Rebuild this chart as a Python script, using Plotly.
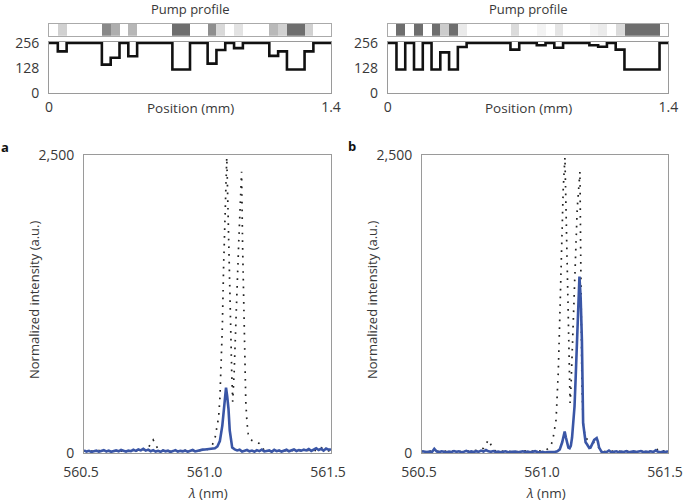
import numpy as np
import plotly.graph_objects as go

# ---------------- data ----------------
# pump profiles (32 pixels across 1.4 mm), grey level 0-256
pump_a = [256, 213, 256, 256, 256, 256, 145, 180, 256, 188, 256, 256, 256, 256, 120, 120,
          256, 256, 150, 220, 256, 230, 256, 256, 256, 190, 213, 120, 120, 213, 256, 256]
pump_b = [256, 120, 256, 120, 256, 120, 208, 120, 236, 256, 256, 256, 256, 256, 222, 256,
          256, 245, 256, 232, 256, 256, 256, 245, 237, 256, 222, 120, 120, 120, 120, 256]
pos_max = 1.4

# spectra: wavelength grid (nm) for baselines
lam_grid = np.round(np.arange(560.50, 561.5001, 0.01), 2)

blue_a_base = [22, 12, 18, 9, 15, 20, 11, 17, 24, 13,
               19, 10, 16, 22, 14, 25, 18, 12, 20, 15,
               27, 18, 30, 22, 35, 20, 28, 15, 24, 12,
               18, 10, 22, 14, 19, 9, 16, 24, 12, 18,
               14, 20, 11, 17, 25, 13, 19, 22, 28, 30,
               32, 35, 38, 40, 45, 60, 120, 200, 150, 60,
               30, 20, 15, 22, 12, 18, 25, 14, 20, 11,
               24, 16, 28, 13, 19, 22, 10, 26, 15, 21,
               12, 18, 27, 14, 23, 30, 17, 25, 20, 28,
               22, 33, 18, 30, 40, 25, 35, 20, 38, 28, 30]
blue_a_peak_lam = [561.02, 561.03, 561.04, 561.05, 561.06, 561.065, 561.07, 561.075,
                   561.08, 561.085, 561.09, 561.095, 561.10, 561.11, 561.12, 561.13]
blue_a_peak_val = [35, 40, 55, 100, 230, 330, 450, 548, 470, 370, 190, 90, 45, 30, 22, 28]

blue_b_base = [15, 10, 8, 12, 6, 35, 12, 8, 14, 10,
               6, 12, 9, 16, 10, 14, 7, 11, 18, 9,
               13, 8, 15, 10, 20, 12, 25, 14, 10, 16,
               8, 12, 6, 10, 14, 7, 11, 9, 13, 6,
               10, 14, 8, 12, 6, 10, 15, 8, 5, 10,
               4, 8, 6, 5, 8, 15, 30, 90, 180, 70,
               40, 130, 390, 950, 1480, 1000, 140, 75, 42, 70,
               110, 125, 45, 10, 5, 8, 20, 6, 10, 14,
               7, 12, 9, 15, 6, 10, 13, 8, 11, 16,
               7, 12, 9, 14, 8, 22, 10, 6, 12, 9, 14]
blue_b_peak_lam = [561.04, 561.05, 561.06, 561.07, 561.08, 561.085, 561.09, 561.095, 561.10,
                   561.105, 561.11, 561.115, 561.12, 561.125, 561.13, 561.135, 561.14,
                   561.145, 561.15, 561.155, 561.16, 561.165, 561.17, 561.175, 561.18,
                   561.185, 561.19, 561.20, 561.21, 561.215, 561.22, 561.23, 561.24]
blue_b_peak_val = [8, 15, 30, 90, 180, 130, 70, 45, 40,
                   60, 130, 250, 390, 650, 950, 1230, 1480,
                   1300, 950, 250, 140, 90, 75, 55, 42,
                   45, 70, 110, 125, 95, 45, 10, 5]

dot_a_base = [15, 20, 12, 18, 10, 16, 22, 14, 18, 12,
              20, 15, 18, 12, 22, 16, 20, 14, 18, 12,
              20, 16, 24, 18, 30, 28, 40, 80, 110, 70,
              30, 18, 22, 14, 20, 12, 18, 22, 15, 20,
              16, 22, 14, 18, 24, 16, 20, 22, 25, 28,
              30, 45, 70, 120, 220, 450, 1050, 1950, 2480, 1800,
              430, 1100, 2050, 1000, 250, 130, 100, 95, 90, 80,
              80, 45, 25, 20, 15, 18, 12, 22, 16, 20,
              14, 18, 22, 15, 20, 24, 18, 22, 16, 20,
              24, 18, 22, 26, 20, 40, 45, 30, 22, 18, 20]
dot_a_peak_lam = [561.00, 561.01, 561.02, 561.03, 561.04, 561.045, 561.05, 561.055, 561.06,
                  561.065, 561.07, 561.074, 561.078, 561.081, 561.085, 561.088, 561.093,
                  561.098, 561.102, 561.105, 561.108, 561.115, 561.121, 561.127, 561.132,
                  561.138, 561.142, 561.148, 561.152, 561.155, 561.16, 561.165, 561.17,
                  561.18, 561.19, 561.20, 561.21, 561.22, 561.23]
dot_a_peak_val = [30, 45, 70, 120, 220, 300, 450, 680, 1050,
                  1550, 1950, 2250, 2480, 2220, 1800, 1500, 1050,
                  680, 430, 520, 680, 1100, 1520, 1800, 2050,
                  2360, 1750, 1000, 650, 430, 250, 160, 130,
                  105, 95, 90, 80, 45, 25]

dot_b_base = [12, 16, 10, 14, 18, 12, 16, 10, 14, 12,
              16, 10, 14, 18, 12, 16, 10, 14, 12, 16,
              14, 18, 16, 20, 30, 40, 80, 110, 70, 30,
              16, 12, 18, 14, 10, 16, 12, 18, 14, 10,
              16, 12, 18, 14, 10, 16, 12, 18, 14, 16,
              20, 30, 50, 150, 450, 1050, 1900, 2480, 1650, 420,
              1100, 2050, 2360, 600, 130, 110, 100, 90, 80, 80,
              40, 20, 14, 18, 12, 16, 10, 14, 18, 12,
              16, 10, 14, 18, 12, 16, 10, 14, 18, 12,
              16, 14, 18, 12, 16, 20, 30, 40, 18, 14, 12]
dot_b_peak_lam = [561.00, 561.015, 561.027, 561.035, 561.045, 561.05, 561.054, 561.059,
                  561.064, 561.069, 561.074, 561.081, 561.085, 561.09, 561.095, 561.099,
                  561.102, 561.105, 561.108, 561.115, 561.122, 561.131, 561.142, 561.146,
                  561.15, 561.155, 561.163, 561.18, 561.20, 561.21, 561.22, 561.23]
dot_b_peak_val = [20, 40, 80, 150, 280, 450, 680, 1050,
                  1510, 1900, 2210, 2480, 2050, 1650, 1260, 800,
                  420, 520, 680, 1100, 1510, 2050, 2360, 1500,
                  600, 250, 130, 100, 90, 80, 40, 20]

pos_ticks = [0, 1.4]
pos_ticktext = ["0", "1.4"]
pump_ticks = [0, 128, 256]
lam_ticks = [560.5, 561.0, 561.5]
lam_ticktext = ["560.5", "561.0", "561.5"]
int_ticks = [0, 2500]
int_ticktext = ["0", "2,500"]


def merge(base, peak_lam, peak_val):
    lo, hi = peak_lam[0], peak_lam[-1]
    xs, ys = [], []
    for x, y in zip(lam_grid, base):
        if x < lo - 1e-9 or x > hi + 1e-9:
            xs.append(float(x)); ys.append(y)
    xs += list(peak_lam); ys += list(peak_val)
    order = np.argsort(xs)
    return np.array(xs)[order], np.array(ys)[order]


W, H = 685, 503
def fx(px): return px / W
def fy(py): return 1 - py / H

FONT = "Open Sans"
TXT = "#383838"
FRAME = "#9a9a9a"

fig = go.Figure()

edges = np.linspace(0, pos_max, len(pump_a) + 1)
centers = (edges[:-1] + edges[1:]) / 2
grayscale = [[0, "#6e6e6e"], [1, "#ffffff"]]

# panel geometry (pixels)
top_x = {"a": (49, 331), "b": (387.7, 668.3)}
main_x = {"a": (84, 331), "b": (422, 668)}

panels = [("a", pump_a, 1, merge(blue_a_base, blue_a_peak_lam, blue_a_peak_val),
           merge(dot_a_base, dot_a_peak_lam, dot_a_peak_val)),
          ("b", pump_b, 2, merge(blue_b_base, blue_b_peak_lam, blue_b_peak_val),
           merge(dot_b_base, dot_b_peak_lam, dot_b_peak_val))]

axis_common = dict(showgrid=False, zeroline=False, showline=True, mirror=True,
                   linecolor=FRAME, linewidth=1, ticks="", automargin=False,
                   ticklabeloverflow="allow",
                   tickfont=dict(family=FONT, size=14, color=TXT))

for name, pump, k, blue, dots in panels:
    # axis ids: strip = 3k-2, pump = 3k-1, main = 3k
    s, p, m = 3 * k - 2, 3 * k - 1, 3 * k
    sx, sy = f"x{s}", f"y{s}"
    px_, py_ = f"x{p}", f"y{p}"
    mx, my = f"x{m}", f"y{m}"

    fig.add_trace(go.Heatmap(z=[pump], x=centers, y=[0], colorscale=grayscale,
                             zmin=120, zmax=256, showscale=False, hoverinfo="skip",
                             xaxis=sx, yaxis=sy))
    fig.add_trace(go.Scatter(x=edges, y=list(pump) + [pump[-1]], mode="lines",
                             line=dict(color="#111111", width=2.6, shape="hv"),
                             showlegend=False, xaxis=px_, yaxis=py_))
    fig.add_trace(go.Scatter(x=dots[0], y=dots[1], mode="lines",
                             line=dict(color="#222222", width=1.7, dash="1.7px,6px"),
                             showlegend=False, xaxis=mx, yaxis=my))
    fig.add_trace(go.Scatter(x=blue[0], y=blue[1], mode="lines",
                             line=dict(color="#3a56a6", width=2.6),
                             showlegend=False, xaxis=mx, yaxis=my))

    x0, x1 = top_x[name]
    dom_top = [fx(x0), fx(x1)]
    mx0, mx1 = main_x[name]
    dom_main = [fx(mx0), fx(mx1)]

    fig.layout[f"xaxis{s}"] = dict(axis_common, domain=dom_top, anchor=sy, range=[0, pos_max],
                                   showticklabels=False, linecolor="#aaaaaa")
    fig.layout[f"yaxis{s}"] = dict(axis_common, domain=[fy(35.7), fy(24)], anchor=sx,
                                   range=[-0.5, 0.5], showticklabels=False, linecolor="#aaaaaa")
    fig.layout[f"xaxis{p}"] = dict(axis_common, domain=dom_top, anchor=py_, range=[0, pos_max],
                                   tickvals=pos_ticks, ticktext=pos_ticktext,
                                   ticklabelstandoff=1)
    fig.layout[f"yaxis{p}"] = dict(axis_common, domain=[fy(92.7), fy(41.7)], anchor=px_,
                                   range=[0, 263], tickvals=pump_ticks, ticklabelstandoff=6)
    fig.layout[f"xaxis{m}"] = dict(axis_common, domain=dom_main, anchor=my, range=[560.5, 561.5],
                                   tickvals=lam_ticks, ticktext=lam_ticktext,
                                   ticklabelstandoff=6, ticklabelshift=-3)
    fig.layout[f"yaxis{m}"] = dict(axis_common, domain=[fy(453), fy(155)], anchor=mx,
                                   range=[0, 2500], tickvals=int_ticks, ticktext=int_ticktext,
                                   ticklabelstandoff=6)

ann = []
def text(x, y, t, size=13, bold=False, angle=0):
    ann.append(dict(x=fx(x), y=fy(y), xref="paper", yref="paper", text=t, showarrow=False,
                    xanchor="center", yanchor="middle", textangle=angle,
                    font=dict(family=FONT, size=size, color="#111111" if bold else TXT)))

text(190, 9, "Pump profile")
text(528, 9, "Pump profile")
text(190, 108, "Position (mm)", size=13.5)
text(528, 108, "Position (mm)", size=13.5)
text(5, 147, "<b>a</b>", bold=True)
text(352, 146, "<b>b</b>", bold=True)
text(34, 300, "Normalized intensity (a.u.)", angle=-90)
text(372, 300, "Normalized intensity (a.u.)", angle=-90)
text(208, 493, "<i>λ</i> (nm)", size=13.5)
text(546, 493, "<i>λ</i> (nm)", size=13.5)

fig.update_layout(width=W, height=H, margin=dict(l=0, r=0, t=0, b=0, autoexpand=False),
                  paper_bgcolor="white", plot_bgcolor="white", showlegend=False,
                  annotations=ann, font=dict(family=FONT, color=TXT))

fig.write_html("out.html", config={"displayModeBar": False},
               post_script="document.body.style.margin='0px';document.body.style.padding='0px';")
